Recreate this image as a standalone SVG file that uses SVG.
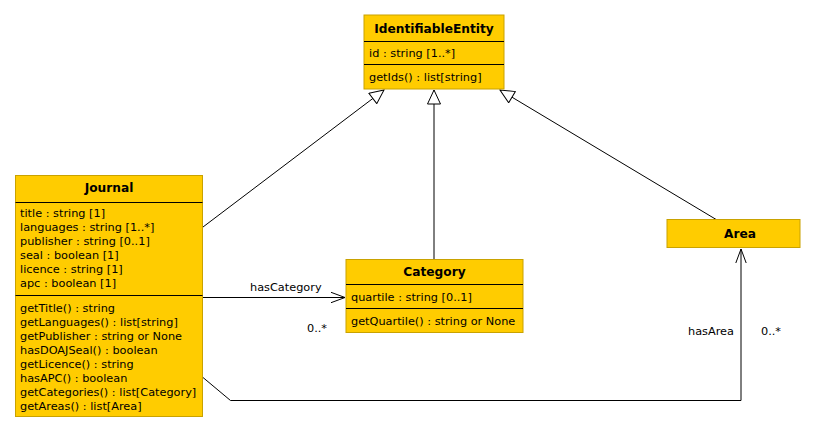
<svg xmlns="http://www.w3.org/2000/svg" width="831" height="434" viewBox="0 0 831 434">
<defs>
<style>
.box{fill:#FFCC00;stroke:#C9A200;stroke-width:1}
.div{stroke:#000;stroke-width:1}
.hd{font-family:"DejaVu Sans",sans-serif;font-weight:bold;font-size:12.2px;fill:#000;text-anchor:middle}
.tx{font-family:"DejaVu Sans",sans-serif;font-size:11.3px;fill:#000}
.lbl{font-family:"DejaVu Sans",sans-serif;font-size:11.3px;fill:#000}
.ln{fill:none;stroke:#000;stroke-width:1}
</style>
<marker id="gen" viewBox="0 0 16 14" refX="15" refY="7" markerWidth="16" markerHeight="14" markerUnits="userSpaceOnUse" orient="auto">
<path d="M1,0.5 L15,7 L1,13.5 Z" fill="#fff" stroke="#000" stroke-width="1"/>
</marker>
<marker id="open" viewBox="0 0 16 12" refX="15" refY="6" markerWidth="16" markerHeight="12" markerUnits="userSpaceOnUse" orient="auto">
<path d="M1,0.8 L15,6 L1,11.2" fill="none" stroke="#000" stroke-width="1"/>
</marker>
</defs>
<rect width="831" height="434" fill="#fff"/>

<g id="connectors">
<path class="ln" d="M203,227 L384,90" marker-end="url(#gen)"/>
<path class="ln" d="M434,259 L434,90" marker-end="url(#gen)"/>
<path class="ln" d="M717,220 L500,90" marker-end="url(#gen)"/>
<path class="ln" d="M203,297.5 L345,297.5" marker-end="url(#open)"/>
<path class="ln" d="M203,377.5 L230.5,400.5 L741,400.5 L741,249" marker-end="url(#open)"/>
<text class="lbl" x="250" y="291">hasCategory</text>
<text class="lbl" x="307" y="332">0..*</text>
<text class="lbl" x="688" y="335">hasArea</text>
<text class="lbl" x="761" y="335">0..*</text>
</g>

<g id="IdentifiableEntity">
<rect class="box" x="364" y="15" width="140" height="74"/>
<line class="div" x1="364" y1="41.5" x2="504" y2="41.5"/>
<line class="div" x1="364" y1="64.5" x2="504" y2="64.5"/>
<text class="hd" x="434" y="33">IdentifiableEntity</text>
<text class="tx" x="369" y="57">id : string [1..*]</text>
<text class="tx" x="369" y="81">getIds() : list[string]</text>
</g>

<g id="Journal">
<rect class="box" x="15.5" y="175.5" width="187" height="241"/>
<line class="div" x1="15.5" y1="202.5" x2="202.5" y2="202.5"/>
<line class="div" x1="15.5" y1="295.5" x2="202.5" y2="295.5"/>
<text class="hd" x="109" y="192">Journal</text>
<text class="tx" x="20" y="217">title : string [1]</text>
<text class="tx" x="20" y="231">languages : string [1..*]</text>
<text class="tx" x="20" y="245">publisher : string [0..1]</text>
<text class="tx" x="20" y="259">seal : boolean [1]</text>
<text class="tx" x="20" y="273">licence : string [1]</text>
<text class="tx" x="20" y="287">apc : boolean [1]</text>
<text class="tx" x="20" y="312">getTitle() : string</text>
<text class="tx" x="20" y="326">getLanguages() : list[string]</text>
<text class="tx" x="20" y="340">getPublisher : string or None</text>
<text class="tx" x="20" y="354">hasDOAJSeal() : boolean</text>
<text class="tx" x="20" y="368">getLicence() : string</text>
<text class="tx" x="20" y="382">hasAPC() : boolean</text>
<text class="tx" x="20" y="396">getCategories() : list[Category]</text>
<text class="tx" x="20" y="410">getAreas() : list[Area]</text>
</g>

<g id="Category">
<rect class="box" x="346" y="259.5" width="177" height="73"/>
<line class="div" x1="346" y1="284.5" x2="523" y2="284.5"/>
<line class="div" x1="346" y1="308.5" x2="523" y2="308.5"/>
<text class="hd" x="434.5" y="276">Category</text>
<text class="tx" x="351" y="301">quartile : string [0..1]</text>
<text class="tx" x="351" y="325">getQuartile() : string or None</text>
</g>

<g id="Area">
<rect class="box" x="667" y="219.5" width="133" height="28"/>
<text class="hd" x="740" y="238">Area</text>
</g>
</svg>
